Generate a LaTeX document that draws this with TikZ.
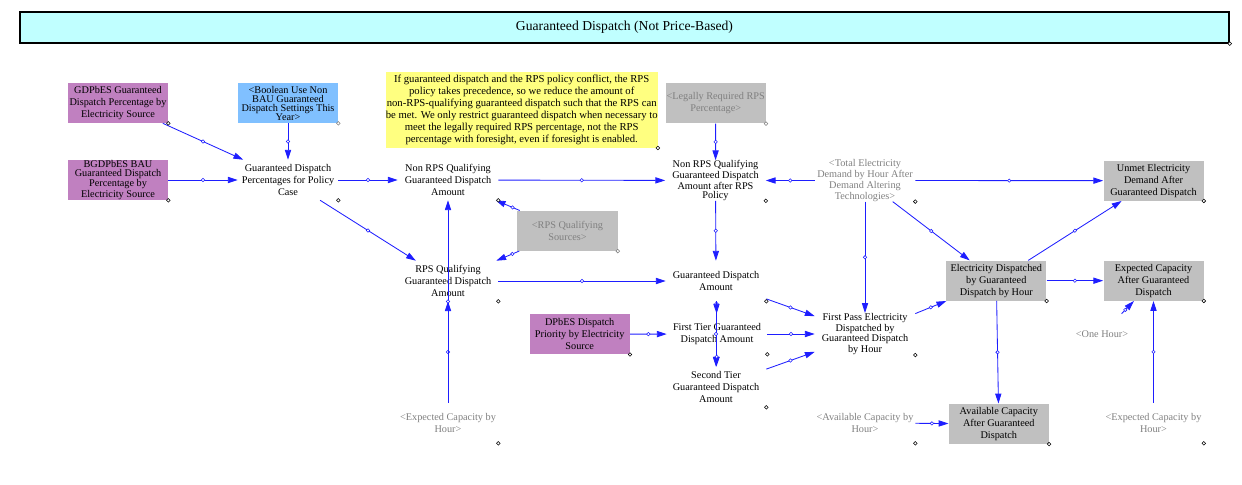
\documentclass[tikz,border=0pt]{standalone}
\usepackage{fontspec}
\setmainfont{Liberation Serif}
\usetikzlibrary{arrows.meta,positioning}
\definecolor{moradoV}{RGB}{192,128,192}
\definecolor{azulV}{RGB}{128,192,255}
\definecolor{amarilloV}{RGB}{255,255,128}
\definecolor{grisV}{RGB}{192,192,192}
\definecolor{cianV}{RGB}{192,255,255}
\definecolor{grisTexto}{RGB}{128,128,128}
\definecolor{azulLink}{RGB}{30,30,255}
\newcommand{\vfont}{\fontsize{7.3}{8.6}\selectfont}
\newcommand{\vfontc}{\fontsize{7.3}{6.4}\selectfont}

\begin{document}
\begin{tikzpicture}[
  x=0.025cm, y=-0.025cm,
  var/.style    = {rectangle, minimum width=2.5cm, minimum height=1cm, inner sep=0pt,
                   align=center, font=\vfont},
  tight/.style  = {font=\vfontc},
  boxv/.style   = {var, fill=grisV},
  shadowv/.style= {var, text=grisTexto},
  inputv/.style = {var, fill=moradoV},
  note/.style   = {rectangle, fill=amarilloV, minimum width=6.72cm, minimum height=1.9cm,
                   inner sep=0pt, align=center, font=\fontsize{7.6}{8.6}\selectfont},
  titlebar/.style = {rectangle, draw=black, line width=1pt, fill=cianV,
                   minimum width=30.22cm, minimum height=0.77cm, font=\fontsize{9.7}{11}\selectfont},
  link/.style   = {-{Triangle[length=7pt,width=4.4pt]}, line width=0.6pt, color=azulLink},
  ah/.style     = {circle, draw=azulLink, fill=white, line width=0.4pt, inner sep=0pt, minimum size=2.4pt},
  hnd/.style    = {draw=black, fill=white, line width=0.4pt},
]
\useasboundingbox (0,0) rectangle (1242,485);

% ── Title ────────────────────────────────────────────────────
\node[titlebar] (title) at (624.5,27.5) {Guaranteed Dispatch (Not Price-Based)};

% ── Inputs and policy case ───────────────────────────────────
\node[inputv] (gdp)  at (118,103) {GDPbES Guaranteed\\Dispatch Percentage by\\Electricity Source};
\node[inputv,tight] (bgdp) at (118,180) {BGDPbES BAU\\Guaranteed Dispatch\\Percentage by\\Electricity Source};
\node[var,tight,fill=azulV] (bool) at (288,103) {<Boolean Use Non\\BAU Guaranteed\\Dispatch Settings This\\Year>};
\node[var]    (pol)  at (288,180) {Guaranteed Dispatch\\Percentages for Policy\\Case};

% ── Note ─────────────────────────────────────────────────────
\node[note] (note) at (521.7,109.7) {If guaranteed dispatch and the RPS policy conflict, the RPS\\
  policy takes precedence, so we reduce the amount of\\
  non-RPS-qualifying guaranteed dispatch such that the RPS can\\
  be met. We only restrict guaranteed dispatch when necessary to\\
  meet the legally required RPS percentage, not the RPS\\
  percentage with foresight, even if foresight is enabled.};

% ── RPS split ────────────────────────────────────────────────
\node[var]     (nrps)  at (448,180) {Non RPS Qualifying\\Guaranteed Dispatch\\Amount};
\node[var]     (rps)   at (448,281) {RPS Qualifying\\Guaranteed Dispatch\\Amount};
\node[shadowv,fill=grisV] (rpss) at (567.5,230.8) {<RPS Qualifying\\Sources>};
\node[shadowv] (ecHl)  at (448,423) {<Expected Capacity by\\Hour>};
\node[shadowv,fill=grisV] (lreq) at (715.7,103.3) {<Legally Required RPS\\Percentage>};
\node[var,tight] (nrpsA) at (715.5,180.5) {Non RPS Qualifying\\Guaranteed Dispatch\\Amount after RPS\\Policy};

% ── Tiers ────────────────────────────────────────────────────
\node[var]    (gda)  at (716,281)   {Guaranteed Dispatch\\Amount};
\node[inputv] (prio) at (579.7,334.2) {DPbES Dispatch\\Priority by Electricity\\Source};
\node[var]    (t1)   at (717,334)   {First Tier Guaranteed\\Dispatch Amount};
\node[var]    (t2)   at (716,387)   {Second Tier\\Guaranteed Dispatch\\Amount};
\node[var,tight] (fp) at (865,334)  {First Pass Electricity\\Dispatched by\\Guaranteed Dispatch\\by Hour};

% ── Demand and capacity ──────────────────────────────────────
\node[shadowv,tight] (tot) at (865,180.5) {<Total Electricity\\Demand by Hour After\\Demand Altering\\Technologies>};
\node[boxv]    (unmet) at (1153.5,180.7) {Unmet Electricity\\Demand After\\Guaranteed Dispatch};
\node[boxv]    (ed)    at (996.3,280.7)  {Electricity Dispatched\\by Guaranteed\\Dispatch by Hour};
\node[boxv]    (eca)   at (1153.5,280.7) {Expected Capacity\\After Guaranteed\\Dispatch};
\node[shadowv] (oneh)  at (1102,334)     {<One Hour>};
\node[boxv]    (aca)   at (998.8,423.8)  {Available Capacity\\After Guaranteed\\Dispatch};
\node[shadowv] (acH)   at (865,423)      {<Available Capacity by\\Hour>};
\node[shadowv] (ecHr)  at (1153.5,423)   {<Expected Capacity by\\Hour>};

% ── Links ────────────────────────────────────────────────────
\draw[link] (gdp)  -- node[ah]{} (pol);
\draw[link] (bgdp) -- node[ah]{} (pol);
\draw[link] (bool) -- node[ah]{} (pol);
\draw[link] (pol)  -- node[ah]{} (nrps);
\draw[link] (pol)  -- node[ah]{} (rps);
\draw[link] (rpss) -- node[ah,pos=0.3]{} (nrps);
\draw[link] (rpss) -- node[ah,pos=0.3]{} (rps);
\draw[link] (ecHl) -- node[ah]{} (rps);
\draw[link] (ecHl) -- node[ah]{} (nrps);
\draw[link] (nrps) -- node[ah]{} (nrpsA);
\draw[link] (lreq) -- node[ah]{} (nrpsA);
\draw[link] (tot)  -- node[ah]{} (nrpsA);
\draw[link] (nrpsA) -- node[ah]{} (gda);
\draw[link] (rps)  -- node[ah]{} (gda);
\draw[link] (gda)  -- node[ah,pos=0.2]{} (t1);
\draw[link] (gda)  -- node[ah]{} (t2);
\draw[link] (t1)   -- node[ah,pos=0.2]{} (t2);
\draw[link] (prio) -- node[ah]{} (t1);
\draw[link] (gda)  -- node[ah]{} (fp);
\draw[link] (t1)   -- node[ah]{} (fp);
\draw[link] (t2)   -- node[ah]{} (fp);
\draw[link] (tot)  -- node[ah]{} (fp);
\draw[link] (tot)  -- node[ah]{} (ed);
\draw[link] (tot)  -- node[ah]{} (unmet);
\draw[link] (fp)   -- node[ah]{} (ed);
\draw[link] (ed)   -- node[ah]{} (unmet);
\draw[link] (ed)   -- node[ah]{} (eca);
\draw[link] (ed)   -- node[ah]{} (aca);
\draw[link] (acH)  -- node[ah]{} (aca);
\draw[link] (oneh) -- node[ah,pos=0.3]{} (eca);
\draw[link] (ecHr) -- node[ah]{} (eca);

% ── Handles ──────────────────────────────────────────────────
\foreach \n in {title,gdp,bgdp,pol,note,nrps,rps,nrpsA,tot,unmet,gda,prio,t1,t2,fp,ed,eca,aca,acH,ecHr,ecHl}
  \draw[hnd] (\n.south east) circle (1.3pt);
\foreach \n in {bool,rpss,lreq}
  \draw[hnd,draw=grisTexto] (\n.south east) circle (1.3pt);

\end{tikzpicture}
\end{document}
